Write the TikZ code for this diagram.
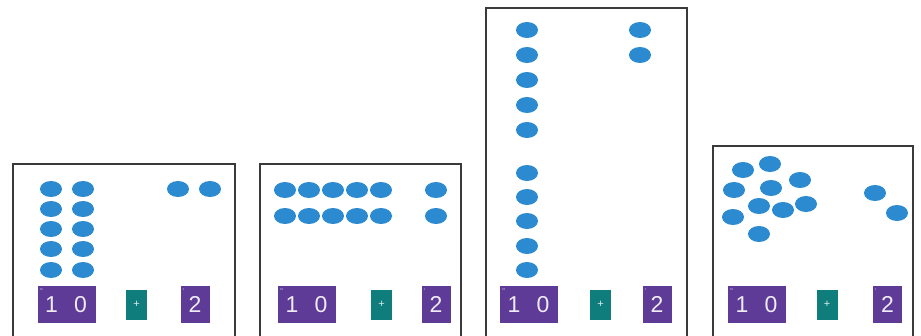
\documentclass[tikz,border=0pt]{standalone}
\usepackage{fontspec}
\setmainfont{Liberation Sans}
\usetikzlibrary{shapes.geometric}
\definecolor{dotblue}{HTML}{2B8AD0}
\definecolor{cardpurple}{HTML}{5E3B96}
\definecolor{cardteal}{HTML}{0F7D7C}
\definecolor{framegray}{HTML}{3A3A3A}
\tikzset{
  panel/.style={draw=framegray, line width=2.2pt},
  counter/.style={ellipse, fill=dotblue, draw=none, minimum width=22pt, minimum height=16pt, inner sep=0pt},
  tencard/.style={rectangle, fill=cardpurple, minimum width=58pt, minimum height=37pt, inner sep=0pt},
  onecard/.style={rectangle, fill=cardpurple, minimum width=29pt, minimum height=37pt, inner sep=0pt},
  opcard/.style={rectangle, fill=cardteal, minimum width=21pt, minimum height=30pt, inner sep=0pt, text=white!85!cardteal, font=\fontsize{11}{11}\selectfont},
  digit/.style={text=white!90!cardpurple, font=\fontsize{23}{23}\selectfont, inner sep=0pt},
  tag/.style={text=white!70!cardpurple, font=\fontsize{3}{3}\selectfont, inner sep=0pt, anchor=north west}
}
% one row of place-value cards: 10 + 2
\newcommand\cardrow[4]{%
  \node[tencard] (#1ten) at (#2,304.5) {};
  \node[digit] (#1tenA) at ([xshift=-15pt]#1ten.center) {1};
  \node[digit] (#1tenB) at ([xshift=14pt]#1ten.center) {0};
  \node[tag] (#1tentag) at ([shift={(2pt,-2pt)}]#1ten.north west) {10};
  \node[opcard] (#1plus) at (#3,304.5) {+};
  \node[onecard] (#1two) at (#4,304.5) {};
  \node[digit] (#1twoA) at (#1two.center) {2};
  \node[tag] (#1twotag) at ([shift={(2pt,-2pt)}]#1two.north west) {1};
}
\begin{document}
\begin{tikzpicture}[x=1pt,y=-1pt]
\useasboundingbox (0,0) rectangle (921,335);
\clip (0,0) rectangle (921,335);

% frames, open at the bottom edge
\draw[panel] (13,340) -- (13,164) -- (235,164) -- (235,340);
\draw[panel] (260,340) -- (260,164) -- (461,164) -- (461,340);
\draw[panel] (486,340) -- (486,8) -- (687,8) -- (687,340);
\draw[panel] (713,340) -- (713,146) -- (913,146) -- (913,340);

% panel 1: two columns of five, plus two
\foreach \y [count=\i] in {189,209,229,249,270} {
  \node[counter] (a\i) at (51,\y) {};
  \node[counter] (b\i) at (83,\y) {};
}
\node[counter] (c1) at (178,189) {};
\node[counter] (c2) at (210,189) {};
\cardrow{p}{66.5}{136.5}{195}

% panel 2: two rows of five, plus a column of two
\foreach \x [count=\i] in {285,309,333,357,381} {
  \node[counter] (d\i) at (\x,190) {};
  \node[counter] (e\i) at (\x,216) {};
}
\node[counter] (f1) at (436,190) {};
\node[counter] (f2) at (436,216) {};
\cardrow{q}{307}{381.5}{436}

% panel 3: one column of ten in two groups, plus two
\foreach \y [count=\i] in {30,55,80,105,130,173,197,221,246,270} {
  \node[counter] (g\i) at (527,\y) {};
}
\node[counter] (h1) at (640,30) {};
\node[counter] (h2) at (640,55) {};
\cardrow{r}{529}{600.5}{657}

% panel 4: ten scattered, plus two
\foreach \x/\y [count=\i] in {743/170,770/164,800/180,734/190,771/188,759/206,783/210,806/204,733/217,759/234} {
  \node[counter] (k\i) at (\x,\y) {};
}
\node[counter] (m1) at (875,193) {};
\node[counter] (m2) at (897,213) {};
\cardrow{s}{757}{827}{887.5}
\end{tikzpicture}
\end{document}
